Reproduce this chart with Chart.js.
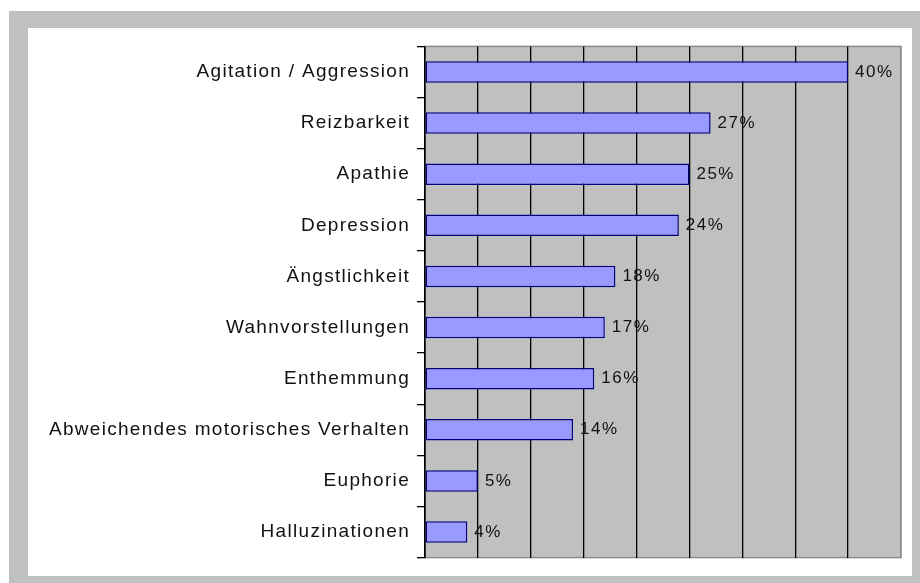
<!DOCTYPE html>
<html>
<head>
<meta charset="utf-8">
<script src="https://cdn.jsdelivr.net/npm/chart.js@4.4.0/dist/chart.umd.min.js"></script>
<style>
  html, body { margin: 0; padding: 0; background: #ffffff; }
  #frame { position: absolute; left: 9px; top: 11px; width: 911px; height: 572px; background: #c0c0c0; }
  #panel { position: absolute; left: 28px; top: 28px; width: 884px; height: 548px; background: #ffffff; }
</style>
</head>
<body>
<div id="frame"></div>
<div id="panel"><canvas id="symptomChart" width="884" height="548"></canvas></div>
<script>
// Symptom frequencies (percent)
const symptoms = [
  "Agitation / Aggression",
  "Reizbarkeit",
  "Apathie",
  "Depression",
  "Ängstlichkeit",
  "Wahnvorstellungen",
  "Enthemmung",
  "Abweichendes motorisches Verhalten",
  "Euphorie",
  "Halluzinationen"
];
const percentValues = [40, 27, 25, 24, 18, 17, 16, 14, 5, 4];
const axisMax = 45;
const axisStep = 5;

const FONT = "'Liberation Sans', Arial, sans-serif";

// Gray plot background with a thin darker frame
const plotBackground = {
  id: "plotBackground",
  beforeDraw(chart) {
    const { ctx, chartArea: a } = chart;
    ctx.save();
    ctx.fillStyle = "#c0c0c0";
    ctx.fillRect(a.left, a.top, a.right - a.left, a.bottom - a.top);
    ctx.strokeStyle = "#8c8c8c";
    ctx.lineWidth = 1.5;
    ctx.strokeRect(a.left, a.top, a.right - a.left, a.bottom - a.top);
    ctx.restore();
    // old-style spaced lettering
    ctx.letterSpacing = "1.3px";
  },
  afterDraw(chart) {
    chart.ctx.letterSpacing = "0px";
  }
};

// Percent labels to the right of each bar
const valueLabels = {
  id: "valueLabels",
  afterDatasetsDraw(chart) {
    const { ctx } = chart;
    const meta = chart.getDatasetMeta(0);
    ctx.save();
    ctx.letterSpacing = "1.5px";
    ctx.font = "17px " + FONT;
    ctx.fillStyle = "#111111";
    ctx.textAlign = "left";
    ctx.textBaseline = "middle";
    meta.data.forEach((bar, i) => {
      ctx.fillText(percentValues[i] + "%", bar.x + 7, bar.y);
    });
    ctx.restore();
  }
};

const ctx = document.getElementById("symptomChart").getContext("2d");
new Chart(ctx, {
  type: "bar",
  data: {
    labels: symptoms,
    datasets: [{
      data: percentValues,
      backgroundColor: "#9999ff",
      borderColor: "#000080",
      borderWidth: 1.5,
      borderSkipped: false,
      categoryPercentage: 1,
      barPercentage: 0.42
    }]
  },
  options: {
    indexAxis: "y",
    responsive: false,
    animation: false,
    layout: { padding: { top: 15, right: 11, bottom: 10, left: 0 } },
    plugins: {
      legend: { display: false },
      tooltip: { enabled: false }
    },
    scales: {
      x: {
        min: 0,
        max: axisMax,
        ticks: { display: false, stepSize: axisStep },
        grid: {
          drawTicks: false,
          color: c => (c.tick && c.tick.value === axisMax ? "#8c8c8c" : "#000000"),
          lineWidth: 1.3
        },
        border: { display: false },
        afterFit: s => { s.height = 0; }
      },
      y: {
        ticks: {
          color: "#111111",
          font: { family: FONT, size: 19 },
          padding: 7
        },
        grid: {
          offset: true,
          drawOnChartArea: false,
          drawTicks: true,
          tickLength: 8,
          color: "#000000",
          lineWidth: 1.3
        },
        border: { color: "#000000", width: 1.5 },
        afterFit: s => { s.width = 397; }
      }
    }
  },
  plugins: [plotBackground, valueLabels]
});
</script>
</body>
</html>
